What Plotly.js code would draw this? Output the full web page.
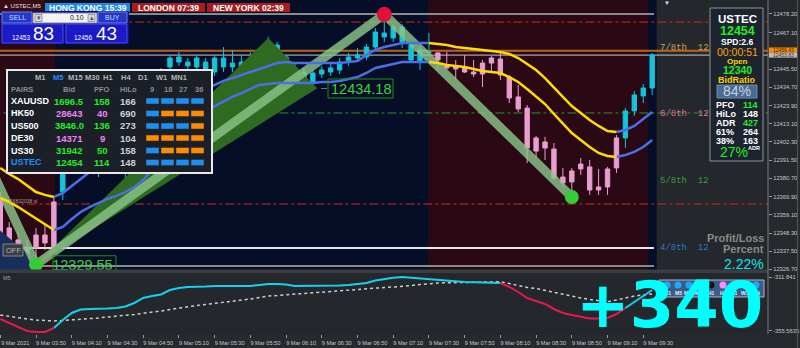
<!DOCTYPE html>
<html><head><meta charset="utf-8">
<script src="https://cdn.plot.ly/plotly-3.0.1.min.js"></script>
<style>html,body{margin:0;padding:0;background:#26292d;overflow:hidden}#chart{width:800px;height:348px}</style>
</head><body><div id="chart"></div>
<script>
// ---------------- DATA ----------------
const times = ['03:30','03:35','03:40','03:45','03:50','03:55','04:00','04:05','04:10','04:15','04:20','04:25','04:30','04:35','04:40','04:45','04:50','04:55','05:00','05:05','05:10','05:15','05:20','05:25','05:30','05:35','05:40','05:45','05:50','05:55','06:00','06:05','06:10','06:15','06:20','06:25','06:30','06:35','06:40','06:45','06:50','06:55','07:00','07:05','07:10','07:15','07:20','07:25','07:30','07:35','07:40','07:45','07:50','07:55','08:00','08:05','08:10','08:15','08:20','08:25','08:30','08:35','08:40','08:45','08:50','08:55','09:00','09:05','09:10','09:15','09:20','09:25','09:30','09:35'];
const tickIdx = [0,4,8,12,16,20,24,28,32,36,40,44,48,52,56,60,64,68,72];
const openP = [12367.9,12351.3,12344.2,12340.0,12339.4,12347.1,12339.4,12372.6,12388.6,12397.5,
12403.5,12399.9,12406.4,12412.4,12398.7,12412.4,12421.3,12430.2,12436.1,12446.8,
12449.7,12449.7,12446.8,12445.0,12443.8,12446.8,12449.1,12445.0,12444.4,12448.0,
12452.7,12453.9,12452.7,12446.2,12443.8,12443.2,12442.6,12443.8,12445.0,12449.7,
12452.1,12452.7,12458.6,12464.6,12464.0,12470.5,12459.8,12456.9,12455.7,12455.1,
12448.0,12446.8,12446.2,12443.8,12442.6,12449.1,12451.5,12440.8,12429.0,12422.4,
12396.9,12402.3,12398.1,12381.5,12378.6,12386.3,12387.5,12375.6,12375.6,12386.9,
12404.7,12420.7,12429.6,12434.3];
const highP = [12372.6,12354.8,12348.9,12344.2,12351.3,12353.1,12369.1,12391.6,12400.5,12408.2,
12407.6,12410.6,12416.5,12416.5,12414.1,12424.2,12433.1,12440.2,12446.2,12453.9,
12455.7,12452.1,12453.9,12452.1,12453.9,12458.6,12456.9,12453.9,12455.7,12455.1,
12464.6,12461.6,12453.9,12449.7,12446.2,12445.0,12447.4,12448.5,12452.1,12455.1,
12458.0,12460.4,12469.9,12478.0,12472.3,12472.3,12461.6,12458.6,12466.9,12455.7,
12455.7,12450.9,12453.9,12450.9,12450.9,12453.3,12455.1,12442.0,12436.1,12424.2,
12405.8,12405.3,12401.7,12386.9,12386.9,12392.8,12391.6,12386.3,12387.5,12406.4,
12422.5,12432.5,12436.7,12455.1];
const lowP = [12345.3,12338.2,12333.5,12331.1,12329.55,12338.2,12337.0,12367.9,12384.5,12392.8,
12396.4,12381.5,12403.5,12396.4,12378.6,12409.4,12418.3,12427.2,12433.1,12443.8,
12447.4,12443.8,12443.8,12442.6,12441.4,12443.8,12443.8,12442.6,12442.0,12445.0,
12450.9,12452.1,12434.9,12434.9,12436.7,12434.3,12440.2,12441.4,12442.6,12447.4,
12450.9,12450.9,12456.9,12461.6,12461.6,12458.0,12449.1,12445.0,12455.1,12445.0,
12445.0,12439.1,12443.2,12440.8,12434.9,12443.2,12439.1,12425.4,12420.1,12389.8,
12392.8,12391.6,12379.7,12375.6,12369.66,12382.7,12370.9,12370.9,12370.9,12383.9,
12398.7,12417.7,12425.4,12430.2];
const closeP = [12348.3,12342.4,12338.2,12334.1,12347.1,12342.4,12366.7,12388.6,12397.5,12403.5,
12399.9,12406.4,12412.4,12398.7,12412.4,12421.3,12430.2,12436.1,12443.8,12452.1,
12452.7,12447.4,12452.1,12449.7,12452.1,12452.1,12446.8,12449.7,12449.1,12452.7,
12461.6,12459.8,12445.0,12439.1,12439.1,12437.9,12445.0,12446.2,12449.7,12452.7,
12453.9,12458.6,12467.5,12466.9,12470.5,12461.6,12450.9,12449.7,12455.4,12450.9,
12446.2,12445.6,12443.8,12442.6,12449.1,12452.1,12442.0,12428.4,12421.9,12398.7,
12404.7,12398.7,12380.9,12378.0,12385.1,12389.2,12373.8,12373.8,12386.3,12404.7,
12420.7,12430.2,12434.3,12453.9];
const trend = [-1,-1,-1,-1,-1,-1,-1,1,1,1,
1,1,1,1,1,1,1,1,1,1,
1,1,1,1,1,1,1,1,1,1,
1,1,1,1,1,1,1,1,1,1,
1,1,1,1,1,1,1,1,1,-1,
-1,-1,-1,-1,-1,-1,-1,-1,-1,-1,
-1,-1,-1,-1,-1,-1,-1,-1,-1,-1,
1,1,1,1];
const maUpper = [12386.9,12383.3,12380.3,12376.2,12372.6,12370.9,12369.7,12372.0,12376.2,12380.3,
12384.5,12390.4,12394.6,12398.1,12402.3,12406.4,12410.6,12414.7,12418.9,12422.5,
12425.4,12429.0,12431.9,12434.3,12436.1,12438.5,12440.2,12442.0,12443.8,12445.6,
12447.4,12449.1,12449.7,12449.1,12449.1,12449.1,12449.1,12449.1,12449.1,12449.7,
12450.3,12453.9,12456.9,12458.6,12459.8,12461.0,12461.0,12461.0,12461.0,12460.4,
12459.8,12458.6,12458.0,12457.4,12456.9,12456.3,12455.7,12454.5,12452.1,12448.5,
12445.0,12440.2,12434.3,12429.0,12423.6,12419.5,12415.3,12411.8,12408.8,12408.2,
12409.4,12411.8,12415.9,12420.1];
const maLower = [12369.1,12366.7,12363.7,12360.2,12356.6,12353.1,12350.1,12351.9,12356.6,12360.8,
12363.7,12366.1,12368.5,12370.3,12372.6,12375.6,12379.7,12385.7,12392.8,12399.9,
12406.4,12412.4,12417.1,12420.7,12423.6,12426.6,12429.0,12431.3,12433.7,12436.1,
12436.7,12437.3,12437.3,12437.3,12437.3,12437.3,12437.9,12437.9,12438.5,12439.7,
12440.8,12443.2,12446.2,12447.4,12448.5,12449.7,12449.7,12449.7,12449.7,12449.1,
12448.0,12447.4,12446.8,12445.6,12444.4,12443.8,12443.2,12440.8,12437.9,12433.7,
12429.0,12424.8,12418.9,12413.0,12407.6,12403.5,12399.3,12395.8,12394.0,12393.4,
12394.6,12396.4,12399.3,12403.5];
const oscMain = [-345.84,-349.08,-352.32,-355.56,-356.37,-356.37,-353.13,-346.65,-340.99,-338.15,
-337.75,-337.75,-337.34,-336.94,-335.72,-332.89,-328.84,-327.22,-326.01,-322.36,
-320.74,-319.93,-319.93,-319.53,-319.12,-319.12,-319.12,-319.12,-319.12,-318.31,
-317.50,-317.50,-317.91,-319.12,-319.12,-319.12,-319.12,-319.12,-318.72,-318.31,
-317.50,-316.70,-314.67,-313.46,-312.40,-311.84,-312.48,-313.05,-313.46,-314.27,
-314.83,-315.48,-315.89,-316.05,-316.29,-316.53,-316.70,-319.93,-323.98,-328.84,
-331.27,-333.70,-337.75,-340.99,-342.61,-344.22,-345.44,-345.44,-345.03,-341.80,
-336.94,-332.08,-327.22,-322.36];
const oscSignal = [-342.61,-343.82,-345.03,-345.84,-346.65,-347.22,-347.46,-347.06,-346.65,-346.09,
-345.44,-345.03,-344.22,-343.66,-343.01,-342.20,-341.23,-340.42,-339.37,-338.15,
-336.94,-335.72,-334.91,-334.10,-333.29,-332.49,-331.67,-330.46,-329.65,-328.44,
-327.22,-326.82,-326.01,-325.60,-325.20,-324.63,-324.22,-323.66,-323.17,-322.36,
-321.55,-320.99,-320.74,-320.34,-319.93,-319.53,-318.72,-317.91,-317.10,-316.70,
-316.53,-316.29,-316.13,-315.97,-315.89,-315.72,-315.72,-317.10,-318.72,-320.34,
-321.15,-322.77,-324.39,-326.01,-327.63,-328.84,-330.06,-331.11,-331.84,-330.46,
-328.84,-327.22,-326.41,-325.60];
const oscTrend = [-1,-1,-1,-1,-1,-1,1,1,1,1,
1,1,1,1,1,1,1,1,1,1,
1,1,1,1,1,1,1,1,1,1,
1,1,1,1,1,1,1,1,1,1,
1,1,1,1,1,1,1,1,1,1,
1,1,1,1,1,1,-1,-1,-1,-1,
-1,-1,-1,-1,-1,-1,-1,-1,-1,-1,
1,1,1,1];
const oscTicks = [-311.841, -355.5635];
const priceTicks = [12478.20,12467.10,12445.50,12434.70,12423.90,12413.10,12402.30,12391.50,12380.70,12369.90,12359.10,12348.30,12337.50,12326.70];
const zigIdx = [-2, 4, 43, 64];
const zigPx = [12397.2, 12329.55, 12478.0, 12369.66];
const wedgeIdx = [4, 30, 35.5];
const wedgePx = [12329.55, 12464.0, 12434.18];
const shadeIdx = [-1, 3.6, 3.6, -1];
const shadePx = [12354.0, 12334.1, 12326.4, 12326.4];
const bearZones = [[-1, 6.1], [47.95, 72.5]];
const bullZones = [[6.1, 47.95], [72.5, 73.5]];
const askPrice = 12456.43, bidPrice = 12453.83;
const solidLevels = [12478.2, 12339.4, 12328.7];
const redDashLevels = [12473.4, 12365.5];
const greenDashLevel = 12419.5;
const murreyNames = ['7/8th', '6/8th', '5/8th', '4/8th'];
const murreyRows = [48, 114, 181, 248];
const pairs = ['XAUUSD','HK50','US500','DE30','US30','USTEC'];
const pairBid = ['1696.5','28643','3846.0','14371','31942','12454'];
const pairPFO = [158, 40, 136, 9, 50, 114];
const pairHiLo = [166, 690, 273, 104, 158, 148];
const pairUp = [1, 0, 1, 0, 1, 1];
const pairSignals = [[1,1,1,1],[1,0,0,0],[1,1,1,0],[0,0,0,0],[1,0,0,0],[1,1,1,1]];
const timeframes = ['M1','M5','M15','M30','H1','H4','D1','W1','MN1'];
const periods = ['9','18','27','36'];
const clocks = [['HONG KONG','15:39'],['LONDON','07:39'],['NEW YORK','02:39']];
const tfDotLabels = ['M1','M5','M15','M30','H1','H4','D1','W1','MN'];
const tfDotState = ['b','b','b','b','k','p','p','k','b'];
const info = {sym:'USTEC', bid:'12454', spd:'SPD:2.6', timer:'00:00:51', open:'12340', ratio:'84%', pfo:'114', hilo:'148', adr:'427', f61:'264', f38:'163', adrPct:'27%'};
const plPercent = '2.22%', plPips = '+340', lot = '0.10';

// ---------------- HELPERS ----------------
const SANS = '"Liberation Sans",Arial,sans-serif';
const MONO = '"Liberation Mono","DejaVu Sans Mono",monospace';
const PW = 768, PH = 334;
const X = px => px / PW, Y = py => 1 - py / PH;
const idx = openP.map((_, i) => i);
function T(text, x, y, size, color, o) {
  o = o || {};
  return {xref:'paper', yref:'paper', x:X(x), y:Y(y), text:text, showarrow:false,
    xanchor:o.xa || 'left', yanchor:o.ya || 'middle', borderpad:0, borderwidth:0,
    font:{family:o.f || SANS, size:size, color:color, weight:o.b ? 700 : 400}};
}
function R(x0, y0, x1, y1, fill, line, lw, layer) {
  return {type:'rect', xref:'paper', yref:'paper', x0:X(x0), x1:X(x1), y0:Y(y1), y1:Y(y0),
    fillcolor:fill, line:{color:line || 'rgba(0,0,0,0)', width:lw || 0}, layer:layer || 'above'};
}
function segAfter(vals, flags, want) {
  return vals.map((v, i) => (flags[i] === want || flags[i + 1] === want) ? v : null);
}
function segBefore(vals, flags, want) {
  return vals.map((v, i) => (flags[i] === want || flags[i - 1] === want) ? v : null);
}
const pick = (arr, want) => arr.filter((_, i) => trend[i] === want);

// ---------------- TRACES ----------------
const PINK = '#e89ed0', CYAN = '#12c5d8';
const traces = [];
traces.push({type:'scatter', x:shadeIdx.concat([shadeIdx[0]]), y:shadePx.concat([shadePx[0]]), fill:'toself', fillcolor:'#182f5c', line:{width:0}, mode:'lines'});
traces.push({type:'scatter', x:wedgeIdx.concat([wedgeIdx[0]]), y:wedgePx.concat([wedgePx[0]]), fill:'toself', fillcolor:'#2e6a1f', line:{width:0}, mode:'lines'});
traces.push({type:'scatter', x:zigIdx, y:zigPx, mode:'lines', line:{color:'rgba(138,196,138,0.82)', width:9}});
[[-1, PINK], [1, CYAN]].forEach(([w, c]) => {
  traces.push({type:'candlestick', x:pick(idx, w), open:pick(openP, w), high:pick(highP, w), low:pick(lowP, w), close:pick(closeP, w),
    increasing:{line:{color:c, width:1}, fillcolor:c}, decreasing:{line:{color:c, width:1}, fillcolor:c}, whiskerwidth:0});
});
[maUpper, maLower].forEach(ma => {
  traces.push({type:'scatter', x:idx, y:segAfter(ma, trend, 1), mode:'lines', line:{color:'#4a6fe6', width:2.5}, connectgaps:false});
  traces.push({type:'scatter', x:idx, y:segAfter(ma, trend, -1), mode:'lines', line:{color:'#ffdc00', width:2.5}, connectgaps:false});
});
traces.push({type:'scatter', x:[zigIdx[2]], y:[zigPx[2]], mode:'markers', marker:{color:'#e0103c', size:15}});
traces.push({type:'scatter', x:[zigIdx[1], zigIdx[3]], y:[zigPx[1], zigPx[3]], mode:'markers', marker:{color:'#36cc36', size:14}});
// low label, clipped by the plot edge like the original
traces.push({type:'scatter', x:[9.2], y:[12328.4], mode:'text', text:[zigPx[1].toFixed(2)], textposition:'middle center', textfont:{family:SANS, size:14.5, color:'#3cd23c'}, cliponaxis:true});
// oscillator
traces.push({type:'scatter', x:idx, y:oscSignal, yaxis:'y2', mode:'lines', line:{color:'#cfcfcf', width:1.5, dash:'dot'}});
traces.push({type:'scatter', x:idx, y:segBefore(oscMain, oscTrend, 1), yaxis:'y2', mode:'lines', line:{color:'#14d2ee', width:2}});
traces.push({type:'scatter', x:idx, y:segBefore(oscMain, oscTrend, -1), yaxis:'y2', mode:'lines', line:{color:'#e8184c', width:2}});

// ---------------- SHAPES ----------------
const shapes = [];
bearZones.forEach(z => shapes.push({type:'rect', xref:'x', yref:'y domain', x0:z[0], x1:z[1], y0:0, y1:1, fillcolor:'#2a0814', line:{width:0}, layer:'below'}));
bullZones.forEach(z => shapes.push({type:'rect', xref:'x', yref:'y domain', x0:z[0], x1:z[1], y0:0, y1:1, fillcolor:'#050e26', line:{width:0}, layer:'below'}));
const hl = (p, color, w, dash, xEnd) => ({type:'line', xref:'x', yref:'y', x0:-1, x1:xEnd, y0:p, y1:p, line:{color:color, width:w, dash:dash || 'solid'}, layer:'below'});
shapes.push(hl(solidLevels[0], '#8a8a8a', 2, 'solid', 73.2));
shapes.push(hl(solidLevels[1], '#e6e6e6', 2, 'solid', 73.2));
shapes.push(hl(solidLevels[2], '#8a8a8a', 2, 'solid', 73.2));
redDashLevels.forEach(p => shapes.push(hl(p, '#c4320e', 1, 'dashdot', 90)));
shapes.push(hl(greenDashLevel, '#2f8f2f', 1, 'dashdot', 90));
shapes.push(hl(askPrice, '#b8641c', 2, 'solid', 90));
shapes.push(hl(bidPrice, '#c8c8c8', 1, 'solid', 90));
// box of the low label (data coords so it is clipped at the chart bottom)
shapes.push({type:'rect', xref:'x', yref:'y', x0:5.9, x1:12.95, y0:12324.0, y1:12334.8, line:{color:'#1f8f1f', width:1}, fillcolor:'rgba(0,0,0,0)', layer:'above'});
// frames
shapes.push(R(0, 269.5, 768, 273, '#3a3d42', null, 0, 'above'));
shapes.push({type:'line', xref:'paper', yref:'paper', x0:X(768), x1:X(768), y0:Y(0), y1:Y(334), line:{color:'#7d7d7d', width:1}});
shapes.push({type:'line', xref:'paper', yref:'paper', x0:X(797.5), x1:X(797.5), y0:Y(0), y1:Y(348), line:{color:'#555', width:1}});
// price boxes
shapes.push(R(769, 47.5, 797, 52.8, '#ff8c00'));
shapes.push(R(769, 52.8, 797, 57.6, '#bdbdbd'));
// labels on chart
shapes.push(R(328, 79, 393, 98, 'rgba(0,0,0,0)', '#1f8f1f', 1));
shapes.push({type:'line', xref:'paper', yref:'paper', x0:X(321), x1:X(327), y0:Y(88.5), y1:Y(88.5), line:{color:'#2aa02a', width:1}});
shapes.push(R(3, 244, 23, 256, '#3a3e44', '#80848a', 1));
// clocks
shapes.push(R(0, 0, 44, 12, '#3a0c14'));
const clockBox = [[45, 130, '#1e8be3'], [132, 205, '#a81c1e'], [207, 290, '#a81c1e']];
clockBox.forEach(c => shapes.push(R(c[0], 3, c[1], 12, c[2])));
// sell/buy panel
shapes.push(R(1, 11, 129, 44, '#0c0c8c'));
shapes.push(R(2, 12, 32, 23, '#2438c8', '#6d7de6', 1));
shapes.push(R(98, 12, 127, 23, '#2438c8', '#6d7de6', 1));
shapes.push(R(33, 13, 97, 23, '#f2f2f2', '#8a8a8a', 1));
shapes.push(R(35, 14.5, 42, 21.5, '#d6d6d6', '#999', 1));
shapes.push(R(88, 14.5, 95, 21.5, '#d6d6d6', '#999', 1));
shapes.push(R(2, 24, 63, 43, '#1a1ac6', '#4c4ce6', 1));
shapes.push(R(66, 24, 127, 43, '#1a1ac6', '#4c4ce6', 1));
// table panel
shapes.push(R(7, 70, 212, 173, '#1b2028', '#e8e8e8', 2));
const sigX = [146, 161, 176, 191];
const rowY = [101, 113.5, 126, 138, 150.5, 162.5];
pairSignals.forEach((row, r) => row.forEach((s, c) => shapes.push(R(sigX[c], rowY[r] - 3, sigX[c] + 13, rowY[r] + 3, s ? '#1e8ff0' : '#ff8c00', '#2a2a2a', 0.5))));
// info panel
shapes.push(R(710, 8, 763, 161, '#1d2430', '#8d949c', 1));
shapes.push(R(717, 85, 757, 98, '#4a6b93', '#6a8ab0', 1));
// tf dots box
shapes.push(R(659, 280, 764, 297, '#3b5c85', '#a8b8c8', 1));
const dotX = [667, 678, 689, 700, 711, 723, 734, 745, 756];
const dotCol = {b:'#1ea6ff', k:'#111418', p:'#ff8ef0'};
tfDotState.forEach((s, i) => shapes.push({type:'circle', xref:'paper', yref:'paper', x0:X(dotX[i] - 3.5), x1:X(dotX[i] + 3.5), y0:Y(288.5), y1:Y(281.5), fillcolor:dotCol[s], line:{width:0}}));

// ---------------- ANNOTATIONS ----------------
const ann = [];
ann.push(T('▲ USTEC,M5', 3, 6, 6, '#e0e0e0'));
clocks.forEach((c, i) => ann.push(T(c[0] + ' ' + c[1], (clockBox[i][0] + clockBox[i][1]) / 2, 7.8, 8.5, '#ffffff', {xa:'center', b:1})));
ann.push(T('SELL', 17, 17.5, 7, '#d0d8ff', {xa:'center'}));
ann.push(T('BUY', 112.5, 17.5, 7, '#d0d8ff', {xa:'center'}));
ann.push(T('▾', 38.5, 18, 7, '#555', {xa:'center'}));
ann.push(T('▴', 91.5, 18, 7, '#555', {xa:'center'}));
ann.push(T(lot, 84, 18, 7, '#222', {xa:'right'}));
const sellS = bidPrice.toFixed(2).split('.'), buyS = askPrice.toFixed(2).split('.');
ann.push(T(sellS[0], 12, 37.5, 6.5, '#ffffff'));
ann.push(T(sellS[1], 32.5, 33.5, 19, '#ffffff'));
ann.push(T(buyS[0], 74, 37.5, 6.5, '#ffffff'));
ann.push(T(buyS[1], 95.5, 33.5, 19, '#ffffff'));
// table
const tfX = [40, 58, 75, 92, 108, 126, 143, 161, 179];
timeframes.forEach((t, i) => ann.push(T(t, tfX[i], 77.5, 7.5, t === 'M5' ? '#1e8fff' : '#b4b4b4', {xa:'center', b:1})));
ann.push(T('PAIRS', 22, 89, 7.5, '#8c8c8c', {xa:'center', b:1}));
ann.push(T('Bid', 69, 89, 7.5, '#8c8c8c', {xa:'center', b:1}));
ann.push(T('PFO', 102, 89, 7.5, '#8c8c8c', {xa:'center', b:1}));
ann.push(T('HiLo', 128, 89, 7.5, '#8c8c8c', {xa:'center', b:1}));
const perX = [152, 168, 183, 199];
periods.forEach((p, i) => ann.push(T(p, perX[i], 89, 7.5, '#8c8c8c', {xa:'center', b:1})));
pairs.forEach((p, r) => {
  const y = rowY[r];
  const vc = pairUp[r] ? '#22ee22' : '#ee84ee';
  ann.push(T(p, 11, y, 9, p === 'USTEC' ? '#1e8fff' : '#ffffff', {b:1}));
  ann.push(T(pairBid[r], 69, y, 9.5, vc, {xa:'center', b:1}));
  ann.push(T(String(pairPFO[r]), 102, y, 9.5, vc, {xa:'center', b:1}));
  ann.push(T(String(pairHiLo[r]), 128, y, 9.5, '#d0d0d0', {xa:'center', b:1}));
});
// info panel
ann.push(T(info.sym, 737, 19, 11.5, '#ffffff', {xa:'center', b:1}));
ann.push(T(info.bid, 737, 31.5, 12.5, '#22ee22', {xa:'center', b:1}));
ann.push(T(info.spd, 737, 42, 8.5, '#ffffff', {xa:'center', b:1}));
ann.push(T(info.timer, 737, 52, 10.5, '#ffa500', {xa:'center'}));
ann.push(T('Open', 737, 61.5, 8, '#ffd700', {xa:'center', b:1}));
ann.push(T(info.open, 737, 70.5, 10.5, '#22ee22', {xa:'center', b:1}));
ann.push(T('BidRatio', 737, 80, 9, '#ffd000', {xa:'center', b:1}));
ann.push(T(info.ratio, 737, 91.5, 14, '#c9d3de', {xa:'center'}));
const kv = [['PFO', info.pfo, '#22ee22', 105], ['HiLo', info.hilo, '#ffffff', 114], ['ADR', info.adr, '#22ee22', 123], ['61%', info.f61, '#ffffff', 132], ['38%', info.f38, '#ffffff', 141]];
kv.forEach(k => { ann.push(T(k[0], 716, k[3], 9, '#ffffff', {b:1})); ann.push(T(k[1], 758, k[3], 9, k[2], {xa:'right', b:1})); });
ann.push(T(info.adrPct, 734, 152, 14, '#22ee22', {xa:'center'}));
ann.push(T('ADR', 748, 148, 5.5, '#ffffff', {b:1}));
// murrey labels
const murreyCol = ['#c8a456', '#de6f98', '#3b9c3b', '#2e76cf'];
murreyNames.forEach((m, i) => ann.push(T(m + '  12', 660, murreyRows[i], 9, murreyCol[i], {f:MONO})));
// price boxes text
ann.push(T(askPrice.toFixed(2), 783, 50.2, 5, '#3a2000', {xa:'center'}));
ann.push(T(bidPrice.toFixed(2), 783, 55.2, 5, '#333', {xa:'center'}));
// chart labels
ann.push(T(wedgePx[2].toFixed(2), 360.5, 88.5, 14.5, '#3cd23c', {xa:'center'}));
ann.push(T('56832038 sl', 10, 200.5, 5, '#a0a0a0'));
ann.push(T('OFF', 13, 250, 7.5, '#b4b4b4', {xa:'center'}));
ann.push(T('▼', 667, 3, 6, '#e0e0e0', {xa:'center'}));
// profit/loss
ann.push(T('Profit/Loss', 764, 238, 11, '#8a8a8a', {xa:'right', b:1}));
ann.push(T('Percent', 764, 249, 11, '#8a8a8a', {xa:'right', b:1}));
ann.push(T(plPercent, 764, 264, 14, '#12e4e8', {xa:'right'}));
ann.push(T('M5', 3, 277.5, 5.5, '#a0a0a0'));
tfDotLabels.forEach((l, i) => ann.push(T(l, dotX[i], 292.5, 5, '#e8f0ff', {xa:'center', b:1})));
ann.push(T(plPips, 669.5, 305, 64, '#00ffff', {xa:'center', b:1, f:'"DejaVu Sans",sans-serif'}));

// ---------------- LAYOUT ----------------
const axFont = {family:SANS, size:5.8, color:'#c6c6c6'};
const layout = {
  width:800, height:348, margin:{l:0, r:32, t:0, b:14},
  paper_bgcolor:'#26292d', plot_bgcolor:'#24272b', showlegend:false, hovermode:false,
  xaxis:{range:[-0.034, 85.97], anchor:'y2', tickmode:'array', tickvals:tickIdx,
    ticktext:tickIdx.map(i => i === 0 ? '9 Mar 2021' : '9 Mar ' + times[i]),
    ticks:'outside', ticklen:3, tickcolor:'#9a9a9a', tickfont:{family:SANS, size:5.6, color:'#c6c6c6'}, tickangle:0, ticklabelshift:15,
    showgrid:false, zeroline:false, showline:false, rangeslider:{visible:false}, fixedrange:true},
  yaxis:{domain:[1 - 270 / 334, 1], range:[12326.36, 12486.5], side:'right', tickmode:'array',
    tickvals:priceTicks, ticktext:priceTicks.map(v => v.toFixed(2)), ticks:'outside', ticklen:3,
    tickcolor:'#9a9a9a', tickfont:axFont, showgrid:false, zeroline:false, fixedrange:true},
  yaxis2:{domain:[0, 61 / 334], range:[-358.0, -308.6], side:'right', anchor:'x', tickmode:'array',
    tickvals:oscTicks, ticktext:['-311.841', '-355.5635'], ticks:'outside', ticklen:3,
    tickcolor:'#9a9a9a', tickfont:axFont, showgrid:false, zeroline:false, fixedrange:true},
  shapes:shapes, annotations:ann
};
Plotly.newPlot('chart', traces, layout, {staticPlot:true, displayModeBar:false});
</script></body></html>
